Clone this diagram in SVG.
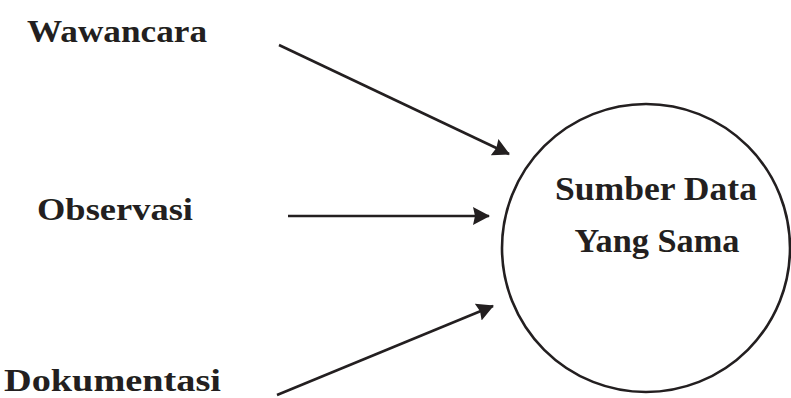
<svg xmlns="http://www.w3.org/2000/svg" width="791" height="398" viewBox="0 0 791 398">
<style>
.lbl{font-family:"Liberation Serif","DejaVu Serif",serif;font-weight:bold;font-size:31px;fill:#231f20}
.ctr{font-size:34px}
.edge{stroke:#231f20;stroke-width:2.6;fill:none}
</style>
<defs>
<marker id="ah" markerWidth="17" markerHeight="20" refX="16" refY="10" orient="auto" markerUnits="userSpaceOnUse">
<path d="M0,1 L17,10 L0,19 L2,10 Z" fill="#231f20"/>
</marker>
</defs>
<rect width="791" height="398" fill="#fff"/>
<g id="connectors">
<line class="edge" x1="279" y1="45" x2="509" y2="154" marker-end="url(#ah)"/>
<line class="edge" x1="288" y1="216" x2="489" y2="216" marker-end="url(#ah)"/>
<line class="edge" x1="277" y1="395" x2="493" y2="306" marker-end="url(#ah)"/>
</g>
<g id="wawancara"><text class="lbl" x="27" y="42" textLength="180" lengthAdjust="spacingAndGlyphs">Wawancara</text></g>
<g id="observasi"><text class="lbl" x="37" y="220" textLength="156" lengthAdjust="spacingAndGlyphs">Observasi</text></g>
<g id="dokumentasi"><text class="lbl" x="4" y="391" textLength="217" lengthAdjust="spacingAndGlyphs">Dokumentasi</text></g>
<g id="sumber">
<circle cx="646" cy="248" r="144" fill="none" stroke="#231f20" stroke-width="2.6"/>
<text class="lbl ctr" x="656" y="200" text-anchor="middle" textLength="202" lengthAdjust="spacingAndGlyphs">Sumber Data</text>
<text class="lbl ctr" x="657" y="252" text-anchor="middle" textLength="165" lengthAdjust="spacingAndGlyphs">Yang Sama</text>
</g>
</svg>
